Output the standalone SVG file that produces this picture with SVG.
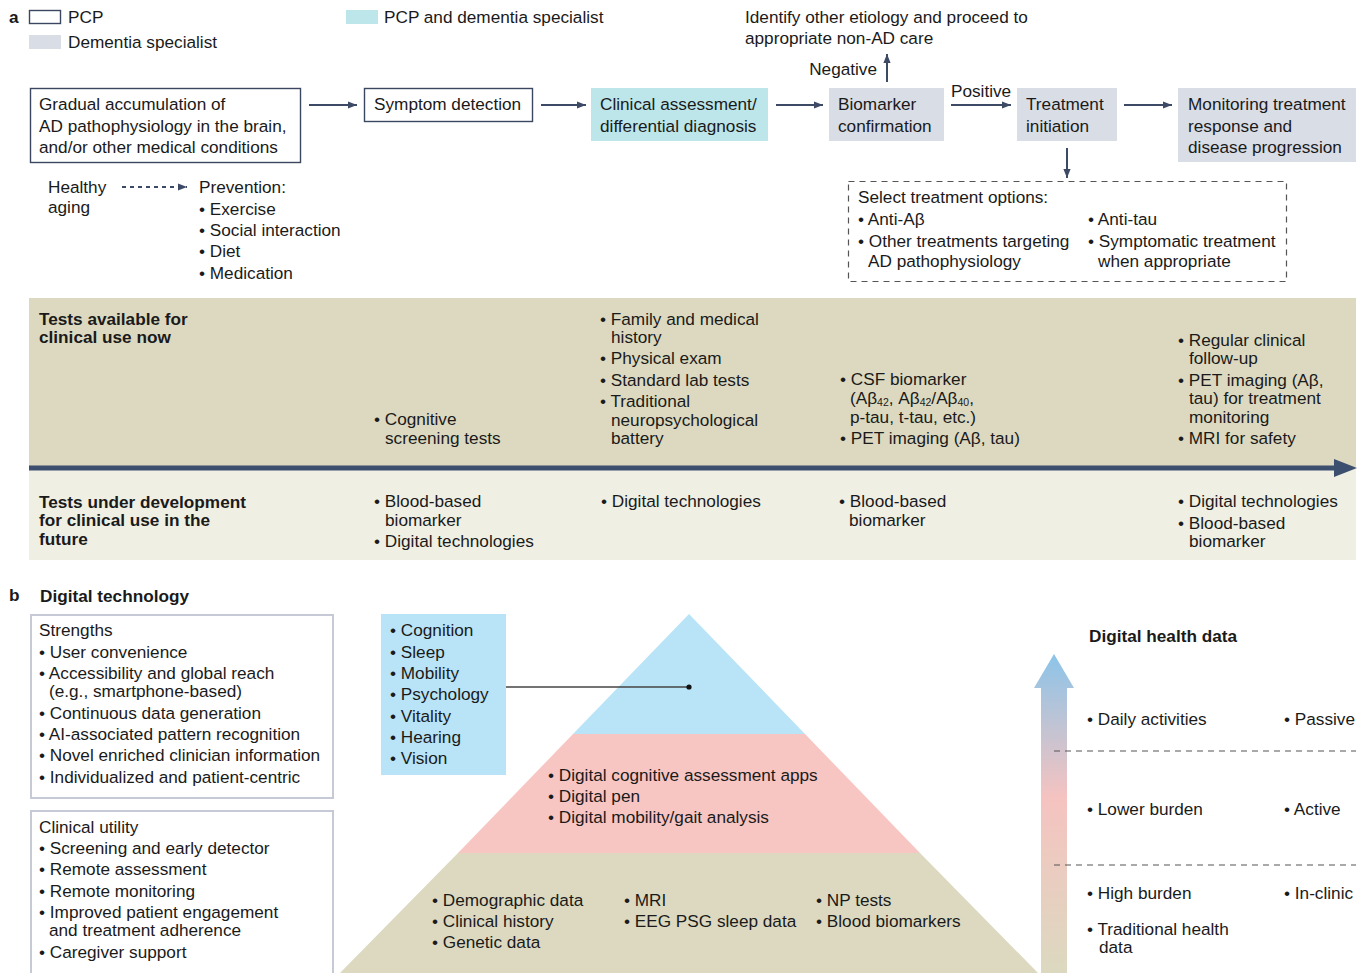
<svg xmlns="http://www.w3.org/2000/svg" width="1365" height="973" viewBox="0 0 1365 973">
<defs>
<style>
text{font-family:"Liberation Sans",Arial,sans-serif;font-size:17.2px;fill:#1a1a1a}
.b{font-weight:bold}
.sub{font-size:10.5px}
.pcp{fill:#fff;stroke:#3b4660;stroke-width:1.4}
.cyan{fill:#bde6ea}
.gray{fill:#d9dde6}
.flow{stroke:#3d4a66;stroke-width:2;fill:none;marker-end:url(#ah)}
.panel{fill:#fff;stroke:#c5cad6;stroke-width:2}
.dash{stroke:#555;stroke-width:1.2;stroke-dasharray:6 5;fill:none}
</style>
<marker id="ah" viewBox="0 0 10 10" refX="10" refY="5" markerWidth="9" markerHeight="9" markerUnits="userSpaceOnUse" orient="auto">
<path d="M0,1 L10,5 L0,9 z" fill="#3d4a66"/>
</marker>
<linearGradient id="grad" x1="0" y1="0" x2="0" y2="1">
<stop offset="0" stop-color="#8cc4e8"/>
<stop offset="0.45" stop-color="#f5c3c0"/>
<stop offset="1" stop-color="#dcd9c0"/>
</linearGradient>
</defs>
<rect width="1365" height="973" fill="#fff"/>

<g id="legend">
<text x="9" y="23" class="b">a</text>
<rect x="29.5" y="10.5" width="31" height="13" class="pcp"/>
<text x="68" y="23">PCP</text>
<rect x="29" y="35" width="32" height="14" class="gray"/>
<text x="68" y="48">Dementia specialist</text>
<rect x="346" y="10" width="32" height="14" class="cyan"/>
<text x="384" y="23">PCP and dementia specialist</text>
</g>

<g id="node-accumulation">
<rect x="30.5" y="88.5" width="270" height="74" class="pcp"/>
<text x="39" y="110">Gradual accumulation of</text>
<text x="39" y="132">AD pathophysiology in the brain,</text>
<text x="39" y="153">and/or other medical conditions</text>
</g>
<g id="node-symptom">
<rect x="364.5" y="88.5" width="168" height="33" class="pcp"/>
<text x="374" y="110">Symptom detection</text>
</g>
<g id="node-clinical">
<rect x="591" y="88" width="177" height="53" class="cyan"/>
<text x="600" y="110">Clinical assessment/</text>
<text x="600" y="132">differential diagnosis</text>
</g>
<g id="node-biomarker">
<rect x="829" y="88" width="115" height="53" class="gray"/>
<text x="838" y="110">Biomarker</text>
<text x="838" y="132">confirmation</text>
</g>
<g id="node-treatment">
<rect x="1017" y="88" width="100" height="53" class="gray"/>
<text x="1026" y="110">Treatment</text>
<text x="1026" y="132">initiation</text>
</g>
<g id="node-monitoring">
<rect x="1178" y="88" width="178" height="74" class="gray"/>
<text x="1188" y="110">Monitoring treatment</text>
<text x="1188" y="132">response and</text>
<text x="1188" y="153">disease progression</text>
</g>
<g id="node-other">
<text x="745" y="23">Identify other etiology and proceed to</text>
<text x="745" y="44">appropriate non-AD care</text>
</g>
<g id="node-healthy">
<text x="48" y="193">Healthy</text>
<text x="48" y="213">aging</text>
</g>
<g id="node-prevention">
<text x="199" y="193">Prevention:</text>
<text x="199" y="215">• Exercise</text>
<text x="199" y="236">• Social interaction</text>
<text x="199" y="257">• Diet</text>
<text x="199" y="279">• Medication</text>
</g>
<g id="node-options">
<rect x="848.5" y="181.5" width="438" height="100" class="dash" stroke="#333"/>
<text x="858" y="203">Select treatment options:</text>
<text x="858" y="225">• Anti-Aβ</text>
<text x="858" y="247">• Other treatments targeting</text>
<text x="868" y="267">AD pathophysiology</text>
<text x="1088" y="225">• Anti-tau</text>
<text x="1088" y="247">• Symptomatic treatment</text>
<text x="1098" y="267">when appropriate</text>
</g>

<g id="connectors">
<line x1="309" y1="105" x2="357" y2="105" class="flow"/>
<line x1="541" y1="105" x2="586" y2="105" class="flow"/>
<line x1="776" y1="105" x2="823" y2="105" class="flow"/>
<line x1="951" y1="105" x2="1011" y2="105" class="flow"/>
<line x1="1124" y1="105" x2="1172" y2="105" class="flow"/>
<line x1="887" y1="82" x2="887" y2="54" class="flow"/>
<line x1="1067" y1="148" x2="1067" y2="178" class="flow"/>
<line x1="122" y1="187" x2="187" y2="187" class="flow" stroke-dasharray="4 4"/>
<text x="877" y="75" text-anchor="end">Negative</text>
<text x="951" y="97">Positive</text>
</g>

<g id="tests-band">
<rect x="29" y="298" width="1327" height="169" fill="#dcd9c0"/>
<rect x="29" y="469" width="1327" height="91" fill="#f0efe4"/>
<line x1="29" y1="468" x2="1338" y2="468" stroke="#3c4f6e" stroke-width="5"/>
<path d="M1334,459 L1357,468 L1334,477 z" fill="#3c4f6e"/>
<text x="39" y="325" class="b">Tests available for</text>
<text x="39" y="343" class="b">clinical use now</text>
<text x="374" y="425">• Cognitive</text>
<text x="385" y="444">screening tests</text>
<text x="600" y="325">• Family and medical</text>
<text x="611" y="343">history</text>
<text x="600" y="364">• Physical exam</text>
<text x="600" y="386">• Standard lab tests</text>
<text x="600" y="407">• Traditional</text>
<text x="611" y="426">neuropsychological</text>
<text x="611" y="444">battery</text>
<text x="840" y="385">• CSF biomarker</text>
<text x="850" y="403.5">(Aβ<tspan class="sub" dy="2.5">42</tspan><tspan dy="-2.5">, Aβ</tspan><tspan class="sub" dy="2.5">42</tspan><tspan dy="-2.5">/Aβ</tspan><tspan class="sub" dy="2.5">40</tspan><tspan dy="-2.5">,</tspan></text>
<text x="850" y="423">p-tau, t-tau, etc.)</text>
<text x="840" y="444">• PET imaging (Aβ, tau)</text>
<text x="1178" y="346">• Regular clinical</text>
<text x="1189" y="364">follow-up</text>
<text x="1178" y="386">• PET imaging (Aβ,</text>
<text x="1189" y="404">tau) for treatment</text>
<text x="1189" y="423">monitoring</text>
<text x="1178" y="444">• MRI for safety</text>
<text x="39" y="508" class="b">Tests under development</text>
<text x="39" y="526" class="b">for clinical use in the</text>
<text x="39" y="545" class="b">future</text>
<text x="374" y="507">• Blood-based</text>
<text x="385" y="526">biomarker</text>
<text x="374" y="547">• Digital technologies</text>
<text x="601" y="507">• Digital technologies</text>
<text x="839" y="507">• Blood-based</text>
<text x="849" y="526">biomarker</text>
<text x="1178" y="507">• Digital technologies</text>
<text x="1178" y="529">• Blood-based</text>
<text x="1189" y="547">biomarker</text>
</g>

<g id="b-title">
<text x="9" y="601" class="b">b</text>
<text x="40" y="602" class="b">Digital technology</text>
</g>
<g id="node-strengths">
<rect x="31" y="615" width="302" height="183" class="panel"/>
<text x="39" y="636">Strengths</text>
<text x="39" y="658">• User convenience</text>
<text x="39" y="679">• Accessibility and global reach</text>
<text x="49" y="697">(e.g., smartphone-based)</text>
<text x="39" y="719">• Continuous data generation</text>
<text x="39" y="740">• AI-associated pattern recognition</text>
<text x="39" y="761">• Novel enriched clinician information</text>
<text x="39" y="783">• Individualized and patient-centric</text>
</g>
<g id="node-utility">
<rect x="31" y="811" width="302" height="175" class="panel"/>
<text x="39" y="833">Clinical utility</text>
<text x="39" y="854">• Screening and early detector</text>
<text x="39" y="875">• Remote assessment</text>
<text x="39" y="897">• Remote monitoring</text>
<text x="39" y="918">• Improved patient engagement</text>
<text x="49" y="936">and treatment adherence</text>
<text x="39" y="958">• Caregiver support</text>
</g>

<g id="pyramid">
<polygon points="689,614 805,734 573,734" fill="#b9e4f7"/>
<polygon points="573,734 805,734 920,853 458,853" fill="#f8c6c2"/>
<polygon points="458,853 920,853 1040,975 338,975" fill="#dcd9c0"/>
<text x="548" y="781">• Digital cognitive assessment apps</text>
<text x="548" y="802">• Digital pen</text>
<text x="548" y="823">• Digital mobility/gait analysis</text>
<text x="432" y="906">• Demographic data</text>
<text x="432" y="927">• Clinical history</text>
<text x="432" y="948">• Genetic data</text>
<text x="624" y="906">• MRI</text>
<text x="624" y="927">• EEG PSG sleep data</text>
<text x="816" y="906">• NP tests</text>
<text x="816" y="927">• Blood biomarkers</text>
</g>
<g id="node-domains">
<rect x="381" y="614" width="125" height="161" fill="#b9e4f7"/>
<text x="390" y="636">• Cognition</text>
<text x="390" y="658">• Sleep</text>
<text x="390" y="679">• Mobility</text>
<text x="390" y="700">• Psychology</text>
<text x="390" y="722">• Vitality</text>
<text x="390" y="743">• Hearing</text>
<text x="390" y="764">• Vision</text>
</g>
<g id="domain-connector">
<line x1="506" y1="687" x2="689" y2="687" stroke="#444" stroke-width="1.3"/>
<circle cx="689" cy="687" r="2.6" fill="#111"/>
</g>

<g id="health-data">
<path d="M1041,688 L1034,688 L1054,654 L1074,688 L1067,688 L1067,973 L1041,973 z" fill="url(#grad)"/>
<text x="1089" y="642" class="b">Digital health data</text>
<text x="1087" y="725">• Daily activities</text>
<text x="1284" y="725">• Passive</text>
<line x1="1054" y1="751" x2="1356" y2="751" stroke="#555" stroke-width="1.2" stroke-dasharray="6 5"/>
<text x="1087" y="815">• Lower burden</text>
<text x="1284" y="815">• Active</text>
<line x1="1054" y1="865" x2="1356" y2="865" stroke="#555" stroke-width="1.2" stroke-dasharray="6 5"/>
<text x="1087" y="899">• High burden</text>
<text x="1284" y="899">• In-clinic</text>
<text x="1087" y="935">• Traditional health</text>
<text x="1099" y="953">data</text>
</g>
</svg>
